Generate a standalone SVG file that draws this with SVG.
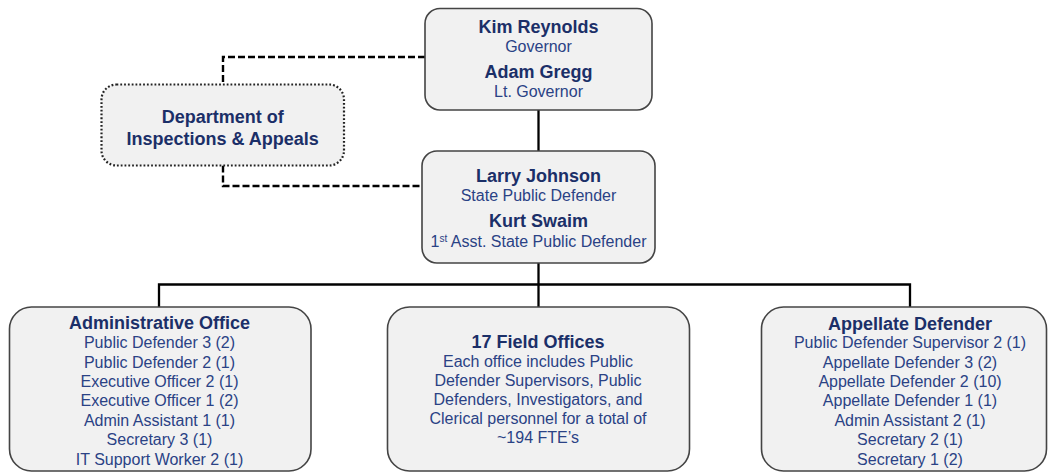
<svg xmlns="http://www.w3.org/2000/svg" width="1048" height="472" viewBox="0 0 1048 472">
<style>
.box{fill:#f1f1f1;stroke:#444;stroke-width:1.6}
.dot{fill:#f1f1f1;stroke:#222;stroke-width:2.2;stroke-dasharray:1.8 2}
.t{font-family:"Liberation Sans",Arial,sans-serif;font-weight:bold;font-size:18px;fill:#1b2f68;text-anchor:middle}
.r{font-family:"Liberation Sans",Arial,sans-serif;font-size:16px;fill:#2a4285;text-anchor:middle}
.solid{fill:none;stroke:#000;stroke-width:2.3}
.dash{fill:none;stroke:#000;stroke-width:2.4;stroke-dasharray:7 3}
</style>
<rect width="1048" height="472" fill="#fff"/>
<g id="connectors">
<path class="dash" d="M425,57 H223 V84.5"/>
<path class="dash" d="M223,165.5 V186 H422"/>
<path class="solid" d="M538.5,110 V151"/>
<path class="solid" d="M538.5,263 V307"/>
<path class="solid" d="M159,307 V284.5 H910 V307"/>
</g>
<g id="governor">
<rect class="box" x="425" y="8.5" width="227" height="101.5" rx="15"/>
<text class="t" x="538.5" y="32.5">Kim Reynolds</text>
<text class="r" x="538.5" y="51.5">Governor</text>
<text class="t" x="538.5" y="78">Adam Gregg</text>
<text class="r" x="538.5" y="97">Lt. Governor</text>
</g>
<g id="dia">
<rect class="dot" x="101.5" y="84.5" width="242.5" height="81" rx="15"/>
<text class="t" x="222.7" y="122.5">Department of</text>
<text class="t" x="222.7" y="144.5">Inspections &amp; Appeals</text>
</g>
<g id="spd">
<rect class="box" x="422" y="151" width="233" height="112" rx="15"/>
<text class="t" x="538.5" y="182">Larry Johnson</text>
<text class="r" x="538.5" y="200.5">State Public Defender</text>
<text class="t" x="538.5" y="226.5">Kurt Swaim</text>
<text class="r" x="538.5" y="247">1<tspan font-size="10" dy="-5.5">st</tspan><tspan dy="5.5"> Asst. State Public Defender</tspan></text>
</g>
<g id="admin">
<rect class="box" x="9.5" y="307" width="301.5" height="164" rx="22"/>
<text class="t" x="159.5" y="329">Administrative Office</text>
<text class="r" x="159.5" y="348.2">Public Defender 3 (2)</text>
<text class="r" x="159.5" y="367.5">Public Defender 2 (1)</text>
<text class="r" x="159.5" y="387">Executive Officer 2 (1)</text>
<text class="r" x="159.5" y="406.3">Executive Officer 1 (2)</text>
<text class="r" x="159.5" y="425.7">Admin Assistant 1 (1)</text>
<text class="r" x="159.5" y="445.1">Secretary 3 (1)</text>
<text class="r" x="159.5" y="464.5">IT Support Worker 2 (1)</text>
</g>
<g id="field">
<rect class="box" x="387.5" y="307" width="302" height="164" rx="22"/>
<text class="t" x="538" y="348">17 Field Offices</text>
<text class="r" x="538" y="366.5">Each office includes Public</text>
<text class="r" x="538" y="385.5">Defender Supervisors, Public</text>
<text class="r" x="538" y="404.5">Defenders, Investigators, and</text>
<text class="r" x="538" y="423.5">Clerical personnel for a total of</text>
<text class="r" x="538" y="443">~194 FTE’s</text>
</g>
<g id="appellate">
<rect class="box" x="761.5" y="307" width="285" height="164" rx="22"/>
<text class="t" x="910" y="329.5">Appellate Defender</text>
<text class="r" x="910" y="348.2">Public Defender Supervisor 2 (1)</text>
<text class="r" x="910" y="367.5">Appellate Defender 3 (2)</text>
<text class="r" x="910" y="387">Appellate Defender 2 (10)</text>
<text class="r" x="910" y="406.3">Appellate Defender 1 (1)</text>
<text class="r" x="910" y="425.7">Admin Assistant 2 (1)</text>
<text class="r" x="910" y="445.1">Secretary 2 (1)</text>
<text class="r" x="910" y="464.5">Secretary 1 (2)</text>
</g>
</svg>
